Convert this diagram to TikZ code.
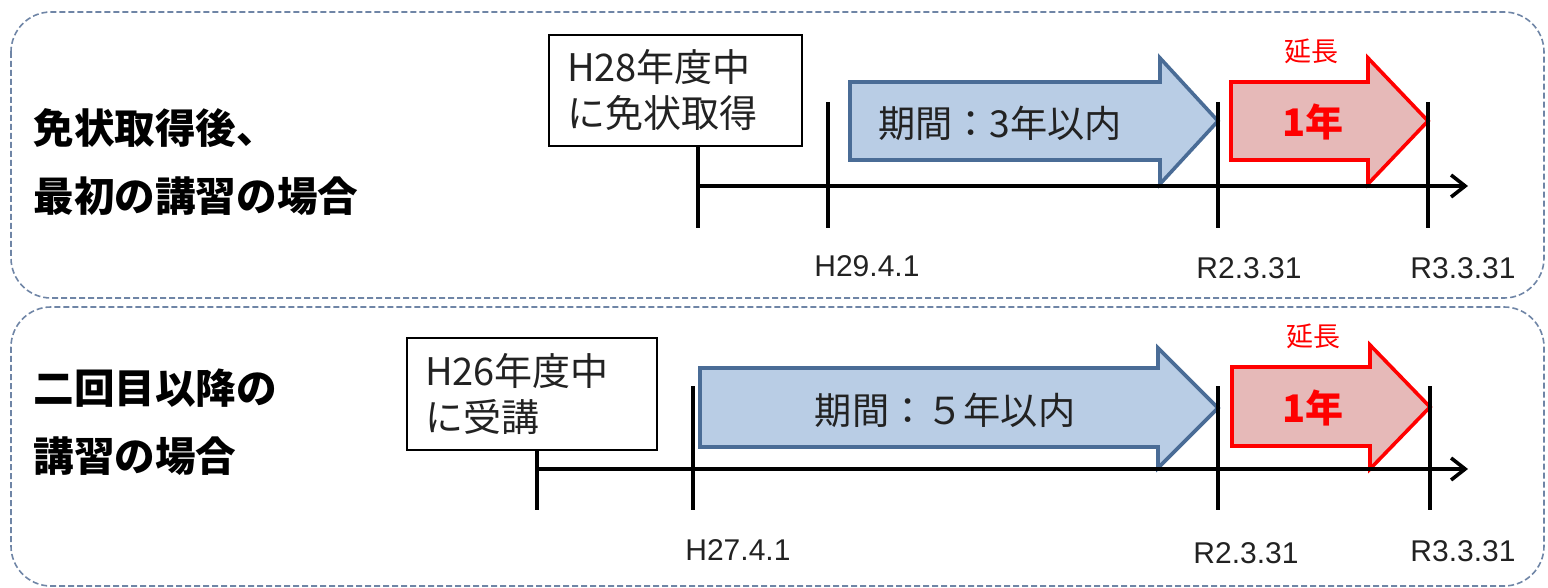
\documentclass[tikz,border=0pt]{standalone}
\usepackage{fontspec}
\setmainfont{Liberation Sans}
\newfontfamily\jp{Noto Sans CJK JP}
\usetikzlibrary{arrows.meta}
\definecolor{panelc}{HTML}{6F85A6}
\definecolor{blueF}{HTML}{B9CDE5}
\definecolor{blueD}{HTML}{4A6C96}
\definecolor{redF}{HTML}{E6B9B8}
\definecolor{redD}{HTML}{FF0000}
\definecolor{txt}{HTML}{222222}
\begin{document}
\begin{tikzpicture}[x=0.5pt,y=-0.5pt,
  panel/.style={draw=panelc, dash pattern=on 3pt off 1.5pt, line width=0.8pt, rounded corners=20pt},
  title/.style={anchor=west, inner sep=0pt, text=black, font=\jp\bfseries\fontsize{20.3}{24}\selectfont},
  datebox/.style={draw=black, line width=1pt, fill=white, text width=108.5pt, align=left,
     inner xsep=9pt, inner ysep=0pt, minimum height=55.5pt, text=txt,
     font=\jp\fontsize{19}{23}\selectfont},
  tick/.style={draw=black, line width=1.8pt},
  axis/.style={draw=black, line width=1.8pt, -{Straight Barb[length=7pt,width=11pt,line width=1.8pt]}},
  bluearrow/.style={draw=blueD, fill=blueF, line width=1.8pt, line join=miter},
  redarrow/.style={draw=redD, fill=redF, line width=1.8pt, line join=miter},
  period/.style={text=txt, font=\jp\fontsize{18.6}{20}\selectfont, inner sep=0pt},
  ext/.style={text=redD, font=\jp\fontsize{13.5}{15}\selectfont, inner sep=0pt},
  oneyear/.style={text=redD, font=\jp\bfseries\fontsize{19}{20}\selectfont, inner sep=0pt},
  date/.style={anchor=west, inner sep=0pt, text=txt, font=\fontsize{15}{17}\selectfont}
]
\useasboundingbox (0,0) rectangle (1548,588);

% panels
\draw[panel] (11,12) rectangle (1544,298);
\draw[panel] (11,307) rectangle (1544,586);

% ---------- top panel ----------
\node[title] (t1a) at (33,128) {免状取得後、};
\node[title] (t1b) at (33,196) {最初の講習の場合};

\node[datebox] (b1) at (675.5,90.5) {H28年度中\\に免状取得};

\coordinate (u0) at (698,228);
\coordinate (u1t) at (828,102); \coordinate (u1b) at (828,228);
\coordinate (u2t) at (1218,102); \coordinate (u2b) at (1218,228);
\coordinate (u3t) at (1428,102); \coordinate (u3b) at (1428,228);
\coordinate (ua0) at (698,186); \coordinate (ua1) at (1468,186);

\draw[bluearrow] (850,82) -- (1160,82) -- (1160,58) -- (1218,121) -- (1160,184) -- (1160,160) -- (850,160) -- cycle;
\draw[redarrow] (1231,82) -- (1368,82) -- (1368,58) -- (1428,121) -- (1368,184) -- (1368,160) -- (1231,160) -- cycle;

\draw[tick] (b1.south -| u0) -- (u0);
\draw[tick] (u1t) -- (u1b);
\draw[tick] (u2t) -- (u2b);
\draw[tick] (u3t) -- (u3b);
\draw[axis] (ua0) -- (ua1);

\node[period] (p1) at (1000,123) {期間：3年以内};
\node[ext] (e1) at (1311,51) {延長};
\node[oneyear] (y1) at (1313,122) {1年};

\node[date] (d11) at (814,266) {H29.4.1};
\node[date] (d12) at (1196,268) {R2.3.31};
\node[date] (d13) at (1410,268) {R3.3.31};

% ---------- bottom panel ----------
\node[title] (t2a) at (33,388) {二回目以降の};
\node[title] (t2b) at (33,456) {講習の場合};

\node[datebox, text width=107pt] (b2) at (532,394) {H26年度中\\に受講};

\coordinate (v0) at (537,510);
\coordinate (v1t) at (693,386); \coordinate (v1b) at (693,510);
\coordinate (v2t) at (1218,386); \coordinate (v2b) at (1218,510);
\coordinate (v3t) at (1430,386); \coordinate (v3b) at (1430,510);
\coordinate (va0) at (537,469); \coordinate (va1) at (1468,469);

\draw[bluearrow] (700,368) -- (1158,368) -- (1158,348) -- (1218,408) -- (1158,468) -- (1158,447) -- (700,447) -- cycle;
\draw[redarrow] (1232,367) -- (1370,367) -- (1370,345) -- (1430,407) -- (1370,469) -- (1370,446) -- (1232,446) -- cycle;

\draw[tick] (b2.south -| v0) -- (v0);
\draw[tick] (v1t) -- (v1b);
\draw[tick] (v2t) -- (v2b);
\draw[tick] (v3t) -- (v3b);
\draw[axis] (va0) -- (va1);

\node[period] (p2) at (945,410) {期間：５年以内};
\node[ext] (e2) at (1313,336) {延長};
\node[oneyear] (y2) at (1313,408) {1年};

\node[date] (d21) at (685,550) {H27.4.1};
\node[date] (d22) at (1193,553) {R2.3.31};
\node[date] (d23) at (1410,551) {R3.3.31};
\end{tikzpicture}
\end{document}
